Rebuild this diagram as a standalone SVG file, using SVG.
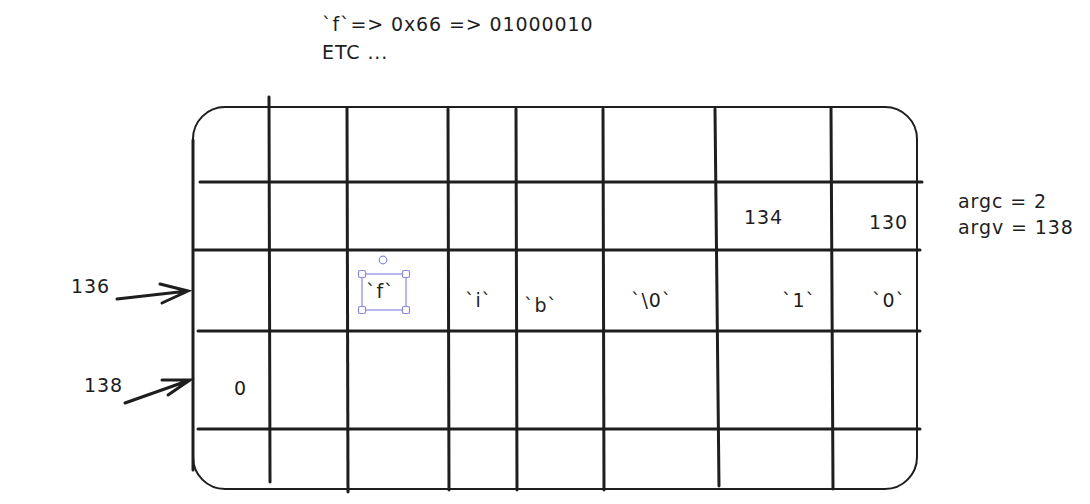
<svg xmlns="http://www.w3.org/2000/svg" width="1090" height="504" viewBox="0 0 1090 504">
<style>
.t{font-family:"DejaVu Sans","Liberation Sans",sans-serif;font-size:19px;letter-spacing:0.9px;fill:#1e1e1e}
.g{stroke:#1e1e1e;stroke-width:3;stroke-linecap:round;fill:none}
.b{stroke:#1e1e1e;stroke-width:2;fill:none}
.sel{stroke:#8a87e6;stroke-width:1.2;fill:none}
.h{stroke:#8a87e6;stroke-width:1.2;fill:#fff}
</style>
<rect width="1090" height="504" fill="#fff"/>
<g id="header">
<text class="t" x="322" y="31">`f`=&gt; 0x66 =&gt; 01000010</text>
<text class="t" x="322" y="59">ETC ...</text>
</g>
<g id="grid">
<rect class="b" x="193" y="107" width="724" height="382" rx="32"/>
<line class="g" x1="193" y1="140" x2="193" y2="470"/>
<line class="g" x1="269" y1="97" x2="270" y2="482"/>
<line class="g" x1="347" y1="108" x2="348" y2="492"/>
<line class="g" x1="448" y1="109" x2="449" y2="490"/>
<line class="g" x1="516" y1="109" x2="517" y2="490"/>
<line class="g" x1="603" y1="109" x2="604" y2="490"/>
<line class="g" x1="715" y1="109" x2="719" y2="486"/>
<line class="g" x1="831" y1="108" x2="833" y2="489"/>
<line class="g" x1="200" y1="182" x2="922" y2="182"/>
<line class="g" x1="195" y1="250" x2="920" y2="250"/>
<line class="g" x1="198" y1="331" x2="920" y2="331"/>
<line class="g" x1="198" y1="429" x2="920" y2="429"/>
</g>
<g id="cells">
<text class="t" x="744" y="224">134</text>
<text class="t" x="869" y="229">130</text>
<text class="t" x="366" y="298">`f`</text>
<text class="t" x="465" y="307">`i`</text>
<text class="t" x="524" y="312">`b`</text>
<text class="t" x="631" y="307">`\0`</text>
<text class="t" x="782" y="307">`1`</text>
<text class="t" x="872" y="307">`0`</text>
<text class="t" x="234" y="395">0</text>
</g>
<g id="selection">
<rect class="sel" x="362" y="274" width="44" height="36"/>
<rect class="h" x="358.5" y="270.5" width="7" height="7" rx="1.5"/>
<rect class="h" x="402.5" y="270.5" width="7" height="7" rx="1.5"/>
<rect class="h" x="358.5" y="306.5" width="7" height="7" rx="1.5"/>
<rect class="h" x="402.5" y="306.5" width="7" height="7" rx="1.5"/>
<circle class="h" cx="383" cy="260" r="3.8"/>
</g>
<g id="side">
<text class="t" x="958" y="208">argc = 2</text>
<text class="t" x="958" y="234">argv = 138</text>
<text class="t" x="71" y="293">136</text>
<text class="t" x="84" y="392">138</text>
</g>
<g id="connectors" class="g">
<path d="M117 299 L188 291 M160 284 L188 291 L162 303"/>
<path d="M125 403 L190 380 M162 380 L190 380 L168 395"/>
</g>
</svg>
